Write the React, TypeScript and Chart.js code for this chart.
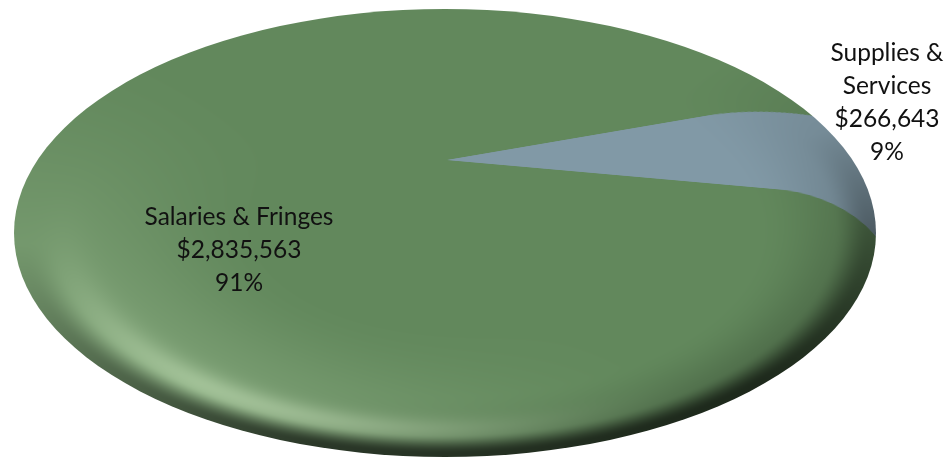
import React, { useEffect, useRef } from "react";
import { Chart, registerables } from "chart.js";

Chart.register(...registerables);

// Budget split shown by the dish.
const categories = ["Salaries & Fringes", "Supplies & Services"];
const amounts = [2835563, 266643];
const sliceColors = ["#62885c", "#8199a6"];
const labelLines = [["Salaries & Fringes"], ["Supplies &", "Services"]];

const WIDTH = 947;
const HEIGHT = 457;

// Outline of the tilted disc and where its hub lands after the tilt.
const DISC = { cx: 445, cy: 233, rx: 431, ry: 224 };
const HUB = { x: 447, y: 160 };
const TILT = 0.465;
const SPREAD = 3.5;

const smooth = (v: number, a: number, b: number) => {
  const u = Math.min(1, Math.max(0, (v - a) / (b - a)));
  return u * u * (3 - 2 * u);
};
const deg = (d: number) => (d * Math.PI) / 180;

// Bends the slice edges over the rounded rim, then lights the bevel.
function shadeDisc(ctx: CanvasRenderingContext2D) {
  const src = ctx.getImageData(0, 0, WIDTH, HEIGHT);
  const out = ctx.createImageData(WIDTH, HEIGHT);
  const { cx, cy, rx, ry } = DISC;
  for (let y = 0; y < HEIGHT; y++) {
    for (let x = 0; x < WIDTH; x++) {
      const nx = (x + 0.5 - cx) / rx;
      const ny = (y + 0.5 - cy) / ry;
      const t = Math.hypot(nx, ny);
      if (t > 1.03) continue;
      const phi = Math.atan2(ny, nx);

      const bend = x > 600 ? Math.pow(Math.max(0, (t - 0.8) / 0.2), 2) * (18 + (y - 115) * 0.17) : 0;
      const sy = Math.min(HEIGHT - 1, Math.max(0, y - bend));
      const y0 = Math.floor(sy);
      const y1 = Math.min(HEIGHT - 1, y0 + 1);
      const f = sy - y0;
      const i0 = (y0 * WIDTH + x) * 4;
      const i1 = (y1 * WIDTH + x) * 4;

      const glow = Math.pow(Math.max(0, Math.cos(phi - deg(118))), 3.5) * Math.exp(-Math.pow((t - 0.88) / 0.055, 2)) * 0.33;
      const broad = smooth(t, 0.4, 0.93) * Math.pow(Math.max(0, Math.cos(phi - deg(140))), 1.5) * 0.2;
      const rimWeight = Math.min(1, Math.max(0, 0.2 + 0.95 * Math.cos(phi - deg(75))));
      const rim = smooth(t, 0.9, 0.985) * rimWeight * 0.6;
      const side = smooth(t, 0.72, 1) * Math.max(0, Math.cos(phi - deg(40))) * 0.24;
      const dark = (1 - rim) * (1 - side);

      const o = (y * WIDTH + x) * 4;
      const tint = [225, 250, 210];
      for (let c = 0; c < 3; c++) {
        const base = src.data[i0 + c] * (1 - f) + src.data[i1 + c] * f;
        const lit = base + (tint[c] - base) * Math.min(1, glow + broad);
        out.data[o + c] = lit * dark;
      }
      out.data[o + 3] = 255;
    }
  }
  ctx.putImageData(out, 0, 0);

  // Trim everything to a clean anti-aliased outline.
  ctx.save();
  ctx.globalCompositeOperation = "destination-in";
  ctx.beginPath();
  ctx.ellipse(cx, cy, rx, ry, 0, 0, Math.PI * 2);
  ctx.fill();
  ctx.restore();
}

const discPlugin = {
  id: "tiltedDisc",
  beforeDatasetsDraw(chart: Chart) {
    const { ctx } = chart;
    const arc = chart.getDatasetMeta(0).data[0] as any;
    ctx.save();
    ctx.translate(HUB.x, HUB.y);
    ctx.scale(SPREAD, SPREAD * TILT);
    ctx.translate(-arc.x, -arc.y);
  },
  afterDatasetsDraw(chart: Chart) {
    chart.ctx.restore();
    shadeDisc(chart.ctx);
  },
  afterDraw(chart: Chart) {
    const { ctx } = chart;
    const total = amounts.reduce((a, b) => a + b, 0);
    const anchors = [
      { x: 239, y: 217 },
      { x: 887, y: 53 },
    ];
    ctx.save();
    ctx.font = "24.5px Lato";
    ctx.fillStyle = "#111111";
    ctx.textAlign = "center";
    ctx.textBaseline = "middle";
    categories.forEach((_, i) => {
      const lines = [
        ...labelLines[i],
        "$" + amounts[i].toLocaleString("en-US"),
        Math.round((amounts[i] / total) * 100) + "%",
      ];
      lines.forEach((line, n) => ctx.fillText(line, anchors[i].x, anchors[i].y + n * 33));
    });
    ctx.restore();
  },
};

export default function App() {
  const ref = useRef<HTMLCanvasElement>(null);
  useEffect(() => {
    const chart = new Chart(ref.current!, {
      type: "pie",
      data: {
        labels: categories,
        datasets: [{ data: amounts, backgroundColor: sliceColors, borderWidth: 0 }],
      },
      options: {
        animation: false,
        responsive: false,
        devicePixelRatio: 1,
        rotation: 100.8,
        plugins: { legend: { display: false }, tooltip: { enabled: false } },
      },
      plugins: [discPlugin],
    });
    return () => chart.destroy();
  }, []);
  return (
    <div style={{ position: "fixed", left: 0, top: 0, width: WIDTH, height: HEIGHT }}>
      <canvas ref={ref} width={WIDTH} height={HEIGHT} style={{ display: "block" }} />
    </div>
  );
}
